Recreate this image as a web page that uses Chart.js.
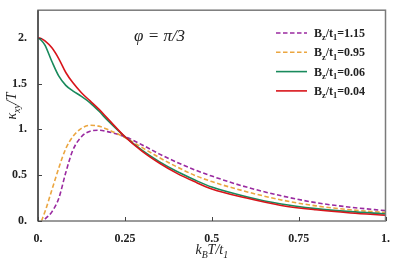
<!DOCTYPE html>
<html>
<head>
<meta charset="utf-8">
<script src="https://cdn.jsdelivr.net/npm/chart.js@4.4.1/dist/chart.umd.min.js"></script>
<style>
  html, body { margin: 0; padding: 0; background: #fff; }
  #wrap { width: 393px; height: 263px; }
</style>
</head>
<body>
<div id="wrap"><canvas id="kappaChart" width="393" height="263"></canvas></div>
<script>
// Data
const temps = [0, 0.01, 0.02, 0.04, 0.06, 0.08, 0.1, 0.125, 0.15, 0.175, 0.2, 0.25, 0.3, 0.35, 0.4, 0.45, 0.5, 0.6, 0.7, 0.8, 0.9, 1.0];

const bz115 = [null, null, 0.02, 0.1, 0.25, 0.53, 0.77, 0.92, 0.98, 0.99, 0.975, 0.92, 0.83, 0.73, 0.64, 0.56, 0.49, 0.37, 0.275, 0.2, 0.15, 0.113];
const bz095 = [null, 0, 0.1, 0.34, 0.58, 0.79, 0.92, 1.01, 1.045, 1.035, 1.0, 0.91, 0.8, 0.69, 0.59, 0.5, 0.43, 0.32, 0.23, 0.165, 0.122, 0.092];
const bz006 = [2.0, 1.97, 1.92, 1.74, 1.58, 1.48, 1.42, 1.36, 1.29, 1.2, 1.1, 0.92, 0.77, 0.645, 0.54, 0.45, 0.37, 0.265, 0.185, 0.135, 0.102, 0.078];
const bz004 = [2.0, 1.99, 1.965, 1.89, 1.77, 1.62, 1.51, 1.4, 1.31, 1.22, 1.12, 0.92, 0.76, 0.63, 0.52, 0.43, 0.35, 0.25, 0.17, 0.122, 0.088, 0.063];

const seriesNames = ['1.15', '0.95', '0.06', '0.04'];
const xTicks = [0, 0.25, 0.5, 0.75, 1];
const xTickLabels = ['0.', '0.25', '0.5', '0.75', '1.'];
const yTicks = [0, 0.5, 1, 1.5, 2];
const yTickLabels = ['0.', '0.5', '1.', '1.5', '2.'];

const serif = '"Liberation Serif", "Times New Roman", serif';

function toPoints(vals) {
    return temps.map((t, i) => ({ x: t, y: vals[i] }));
}

// Draw text runs with subscripts, returns end x
function drawRuns(ctx, runs, x, y, size, style) {
    runs.forEach(r => {
        const s = r.sub ? size * 0.7 : size;
        ctx.font = style + ' ' + s + 'px ' + serif;
        ctx.fillText(r.t, x, y + (r.sub ? size * 0.28 : 0));
        x += ctx.measureText(r.t).width;
    });
    return x;
}

function runsWidth(ctx, runs, size, style) {
    let w = 0;
    runs.forEach(r => {
        ctx.font = style + ' ' + (r.sub ? size * 0.7 : size) + 'px ' + serif;
        w += ctx.measureText(r.t).width;
    });
    return w;
}

const framePlugin = {
    id: 'framePlugin',
    afterDraw(chart) {
        const ctx = chart.ctx;
        const a = chart.chartArea;
        const xs = chart.scales.x;
        const ys = chart.scales.y;
        ctx.save();

        // frame
        ctx.strokeStyle = '#7a7a7a';
        ctx.lineWidth = 1.5;
        ctx.strokeRect(a.left, a.top, a.right - a.left, a.bottom - a.top);
        ctx.strokeStyle = '#333';
        ctx.lineWidth = 1.2;
        ctx.beginPath();
        ctx.moveTo(a.left, a.top);
        ctx.lineTo(a.left, a.bottom);
        ctx.stroke();

        // inward ticks
        ctx.strokeStyle = '#444';
        ctx.lineWidth = 1;
        ctx.beginPath();
        xTicks.forEach(v => {
            const px = Math.round(xs.getPixelForValue(v)) + 0.5;
            ctx.moveTo(px, a.bottom);
            ctx.lineTo(px, a.bottom - 4);
        });
        yTicks.forEach(v => {
            const py = Math.round(ys.getPixelForValue(v)) + 0.5;
            ctx.moveTo(a.left, py);
            ctx.lineTo(a.left + 4, py);
        });
        ctx.stroke();

        ctx.fillStyle = '#222';
        ctx.textBaseline = 'alphabetic';
        ctx.textAlign = 'left';

        // x axis title: k_B T / t_1
        const xRuns = [{ t: 'k' }, { t: 'B', sub: true }, { t: 'T/t' }, { t: '1', sub: true }];
        let w = runsWidth(ctx, xRuns, 14, 'italic');
        drawRuns(ctx, xRuns, (a.left + a.right) / 2 - w / 2, 254, 14, 'italic');

        // y axis title: kappa_xy / T
        ctx.save();
        ctx.translate(16, 106);
        ctx.rotate(-Math.PI / 2);
        const yRuns = [{ t: 'κ' }, { t: 'xy', sub: true }, { t: '/T' }];
        w = runsWidth(ctx, yRuns, 14, 'italic');
        drawRuns(ctx, yRuns, -w / 2, 0, 14, 'italic');
        ctx.restore();

        // annotation
        ctx.font = 'italic 17px ' + serif;
        ctx.fillText('φ = π/3', 134, 41);

        // legend
        chart.data.datasets.forEach((ds, i) => {
            const y = 33 + i * 19.3;
            ctx.strokeStyle = ds.borderColor;
            ctx.lineWidth = 1.6;
            ctx.setLineDash(ds.borderDash || []);
            ctx.beginPath();
            ctx.moveTo(276, y);
            ctx.lineTo(307, y);
            ctx.stroke();
            ctx.setLineDash([]);
            ctx.fillStyle = '#222';
            drawRuns(ctx, [
                { t: 'B' }, { t: 'z', sub: true }, { t: '/t' }, { t: '1', sub: true }, { t: '=' + seriesNames[i] }
            ], 314, y + 4, 12, 'bold');
        });

        ctx.restore();
    }
};

const ctx = document.getElementById('kappaChart').getContext('2d');
const kappaChart = new Chart(ctx, {
    type: 'line',
    data: {
        datasets: [
            { label: 'Bz/t1=1.15', data: toPoints(bz115), borderColor: '#9a2aa0', borderDash: [4.5, 2.5], order: 4 },
            { label: 'Bz/t1=0.95', data: toPoints(bz095), borderColor: '#eba640', borderDash: [4.5, 2.5], order: 3 },
            { label: 'Bz/t1=0.06', data: toPoints(bz006), borderColor: '#198a5c', order: 2 },
            { label: 'Bz/t1=0.04', data: toPoints(bz004), borderColor: '#d8151b', order: 1 }
        ]
    },
    options: {
        responsive: false,
        animation: false,
        devicePixelRatio: 1,
        layout: { padding: { top: 3, right: 6, left: 0, bottom: 0 } },
        elements: {
            point: { radius: 0 },
            line: { borderWidth: 1.6, cubicInterpolationMode: 'monotone', fill: false }
        },
        plugins: {
            legend: { display: false },
            tooltip: { enabled: false }
        },
        scales: {
            x: {
                type: 'linear',
                min: 0,
                max: 1,
                grid: { display: false },
                border: { display: false },
                afterFit: s => { s.height = 42; },
                afterBuildTicks: s => { s.ticks = xTicks.map(v => ({ value: v })); },
                ticks: {
                    padding: 3,
                    color: '#222',
                    font: { family: serif, size: 12, weight: 'bold' },
                    maxRotation: 0,
                    callback: v => xTickLabels[xTicks.indexOf(v)]
                }
            },
            y: {
                min: 0,
                max: 2.3,
                grid: { display: false },
                border: { display: false },
                afterFit: s => { s.width = 38; },
                afterBuildTicks: s => { s.ticks = yTicks.map(v => ({ value: v })); },
                ticks: {
                    padding: 3,
                    color: '#222',
                    font: { family: serif, size: 12, weight: 'bold' },
                    callback: v => yTickLabels[yTicks.indexOf(v)]
                }
            }
        }
    },
    plugins: [framePlugin]
});
</script>
</body>
</html>
